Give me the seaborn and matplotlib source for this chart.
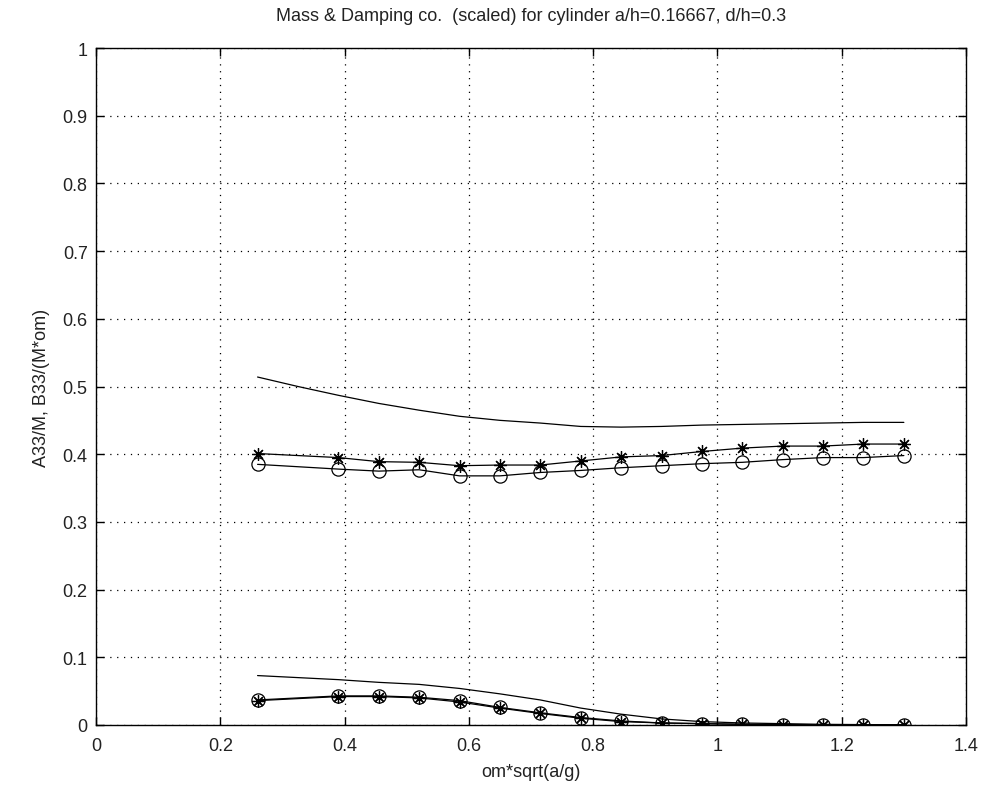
import matplotlib
matplotlib.use("Agg")
import matplotlib.pyplot as plt
import seaborn as sns
import pandas as pd

# Non-dimensional frequency om*sqrt(a/g)
freq = [0.26, 0.325, 0.39, 0.455, 0.52, 0.585, 0.65, 0.715, 0.78,
        0.845, 0.91, 0.975, 1.04, 1.105, 1.17, 1.235, 1.30]

# Reference curves (no markers)
a33_ref = [0.514, 0.500, 0.487, 0.475, 0.465, 0.456, 0.450, 0.446, 0.441,
           0.440, 0.441, 0.443, 0.444, 0.445, 0.446, 0.447, 0.447]
b33_ref = [0.073, 0.070, 0.067, 0.063, 0.060, 0.054, 0.046, 0.037, 0.025,
           0.016, 0.009, 0.005, 0.003, 0.002, 0.001, 0.0006, 0.0004]

# Computed points (missing the 0.325 sample)
freq_pts = [0.26, 0.39, 0.455, 0.52, 0.585, 0.65, 0.715, 0.78,
            0.845, 0.91, 0.975, 1.04, 1.105, 1.17, 1.235, 1.30]
a33_star = [0.401, 0.395, 0.389, 0.388, 0.383, 0.384, 0.384, 0.390,
            0.396, 0.398, 0.404, 0.409, 0.412, 0.412, 0.415, 0.415]
a33_circ = [0.385, 0.378, 0.375, 0.377, 0.368, 0.368, 0.373, 0.376,
            0.380, 0.383, 0.386, 0.388, 0.392, 0.395, 0.395, 0.398]
b33_star = [0.036, 0.042, 0.042, 0.040, 0.034, 0.025, 0.017, 0.010,
            0.005, 0.003, 0.002, 0.001, 0.0006, 0.0004, 0.0003, 0.0002]
b33_circ = [0.037, 0.043, 0.043, 0.041, 0.036, 0.026, 0.018, 0.011,
            0.006, 0.003, 0.002, 0.001, 0.0006, 0.0004, 0.0003, 0.0002]

x_ticks = [0, 0.2, 0.4, 0.6, 0.8, 1.0, 1.2, 1.4]
x_tick_labels = ["0", "0.2", "0.4", "0.6", "0.8", "1", "1.2", "1.4"]
y_ticks = [0, 0.1, 0.2, 0.3, 0.4, 0.5, 0.6, 0.7, 0.8, 0.9, 1.0]
y_tick_labels = ["0", "0.1", "0.2", "0.3", "0.4", "0.5", "0.6", "0.7", "0.8", "0.9", "1"]

sns.set_theme(style="white")
plt.rcParams["font.family"] = ["Liberation Sans Narrow", "Liberation Sans", "DejaVu Sans"]

fig = plt.figure(figsize=(9.84, 8.03), dpi=100)
ax = fig.add_axes([96 / 984, 77 / 803, 870 / 984, 677 / 803])

ref = pd.DataFrame({"x": freq, "a33": a33_ref, "b33": b33_ref})
pts = pd.DataFrame({"x": freq_pts, "a_s": a33_star, "a_c": a33_circ,
                    "b_s": b33_star, "b_c": b33_circ})

lw = 0.9
sns.lineplot(data=ref, x="x", y="a33", ax=ax, color="black", lw=lw, sort=False)
sns.lineplot(data=ref, x="x", y="b33", ax=ax, color="black", lw=lw, sort=False)

asterisk = (8, 2, 0)
for col, mk, ms in [("a_s", asterisk, 9), ("b_s", asterisk, 9),
                    ("a_c", "o", 9.5), ("b_c", "o", 9.5)]:
    ax.plot(pts["x"], pts[col], color="black", lw=lw, marker=mk, ms=ms,
            mfc="none", mec="black", mew=0.9)

ax.set_xlim(0, 1.4)
ax.set_ylim(0, 1)
ax.set_xticks(x_ticks)
ax.set_xticklabels(x_tick_labels)
ax.set_yticks(y_ticks)
ax.set_yticklabels(y_tick_labels)

ax.grid(True, color="black", linestyle=(0, (1.0, 4.5)), linewidth=0.9)
ax.set_axisbelow(True)
for s in ax.spines.values():
    s.set_visible(True)
    s.set_color("black")
    s.set_linewidth(1.0)

ax.tick_params(axis="both", direction="in", length=6, width=1.0, colors="black",
               top=True, right=True, bottom=True, left=True, labelsize=13)
ax.tick_params(axis="x", pad=9)
ax.tick_params(axis="y", pad=6)
for lab in ax.get_xticklabels() + ax.get_yticklabels():
    lab.set_color("#222222")

ax.set_xlabel("om*sqrt(a/g)", fontsize=13, labelpad=6, color="#222222")
ax.set_ylabel("A33/M, B33/(M*om)", fontsize=13, labelpad=9, color="#222222")
ax.set_title("Mass & Damping co.  (scaled) for cylinder a/h=0.16667, d/h=0.3",
             fontsize=13, pad=20, color="#222222")

fig.savefig("out.png", dpi=100, facecolor="white")
